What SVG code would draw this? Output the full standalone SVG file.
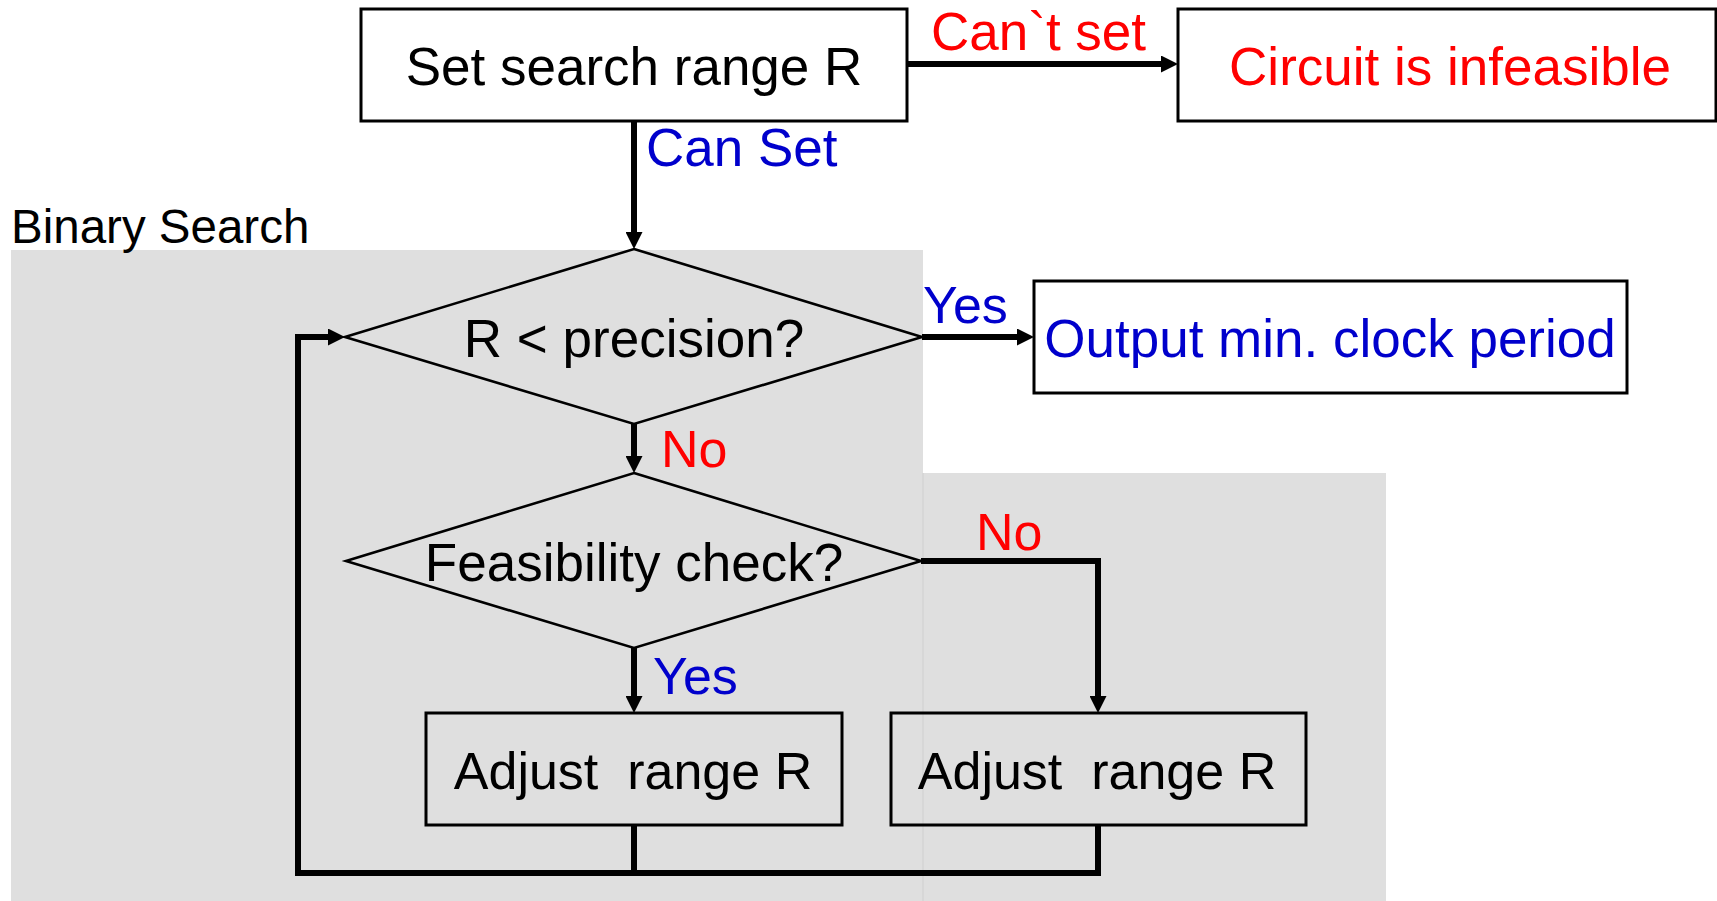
<svg xmlns="http://www.w3.org/2000/svg" width="1717" height="901" viewBox="0 0 1717 901">
<style>
text{font-family:"Liberation Sans",Arial,sans-serif;font-size:53px}
.blk{fill:#000}
.red{fill:#ff0000}
.blue{fill:#0000cc}
.mid{text-anchor:middle}
.box{fill:#fff;stroke:#000;stroke-width:3}
.tbox{fill:none;stroke:#000;stroke-width:3}
.dia{fill:none;stroke:#000;stroke-width:2.6}
.con{fill:none;stroke:#000;stroke-width:6;stroke-linejoin:miter}
.arr{marker-end:url(#ah)}
</style>
<defs>
<marker id="ah" markerUnits="userSpaceOnUse" markerWidth="17" markerHeight="17" refX="0" refY="8.5" orient="auto" viewBox="0 0 17 17">
<path d="M0,0 L17,8.5 L0,17 z" fill="#000"/>
</marker>
</defs>
<rect width="1717" height="901" fill="#fff"/>
<g id="binary-search-region">
<rect x="11" y="250" width="912" height="651" fill="#dfdfdf"/>
<rect x="923" y="473" width="463" height="428" fill="#dfdfdf"/>
<line x1="923" y1="473" x2="923" y2="901" stroke="#cfcfcf" stroke-width="1"/>
<text x="11" y="243" class="blk" style="font-size:47.5px">Binary Search</text>
</g>
<g id="connectors">
<path class="con arr" d="M634,121 V232"/>
<path class="con arr" d="M907,64 H1161"/>
<path class="con arr" d="M922,337 H1017"/>
<path class="con arr" d="M634,424 V456"/>
<path class="con arr" d="M921,561 H1098 V696"/>
<path class="con arr" d="M634,648 V696"/>
<path class="con" d="M634,825 V873"/>
<path class="con arr" d="M1098,825 V873 H298 V337 H328"/>
<text x="931" y="50" class="red">Can`t set</text>
<text x="646" y="166" class="blue">Can Set</text>
<text x="923" y="323" class="blue" style="font-size:52px">Yes</text>
<text x="661" y="467" class="red" style="font-size:52px">No</text>
<text x="976" y="550" class="red" style="font-size:52px">No</text>
<text x="653" y="694" class="blue" style="font-size:52px">Yes</text>
</g>
<g id="set-range">
<rect x="361" y="9" width="546" height="112" class="box"/>
<text x="634" y="85" class="blk mid">Set search range R</text>
</g>
<g id="infeasible">
<rect x="1178" y="9" width="538" height="112" class="box"/>
<text x="1450" y="85" class="red mid">Circuit is infeasible</text>
</g>
<g id="precision-check">
<polygon points="634,249 922,337 634,424 345,337" class="dia"/>
<text x="634" y="357" class="blk mid">R &lt; precision?</text>
</g>
<g id="output">
<rect x="1034" y="281" width="593" height="112" class="box"/>
<text x="1330" y="357" class="blue mid">Output min. clock period</text>
</g>
<g id="feasibility-check">
<polygon points="634,473 921,561 634,648 346,561" class="dia"/>
<text x="634" y="581" class="blk mid">Feasibility check?</text>
</g>
<g id="adjust-yes">
<rect x="426" y="713" width="416" height="112" class="tbox"/>
<text x="633" y="789" class="blk mid" style="font-size:52px" xml:space="preserve">Adjust  range R</text>
</g>
<g id="adjust-no">
<rect x="891" y="713" width="415" height="112" class="tbox"/>
<text x="1097" y="789" class="blk mid" style="font-size:52px" xml:space="preserve">Adjust  range R</text>
</g>
</svg>
